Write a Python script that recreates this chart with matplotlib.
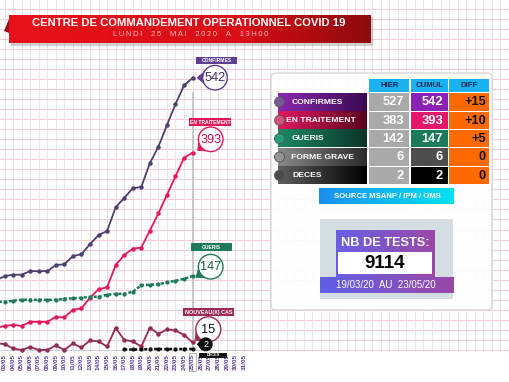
import matplotlib
matplotlib.use("Agg")
import matplotlib.pyplot as plt
import numpy as np
from matplotlib.patches import Rectangle, Circle, Polygon, FancyBboxPatch
from matplotlib.colors import LinearSegmentedColormap

plt.rcParams['font.family'] = ['Liberation Sans', 'DejaVu Sans']

# ---- data ----
tick_days = list(range(3, 32))
tick_labels = ['%02d/05' % d for d in tick_days]

days = list(range(2, 26))            # 02/05 .. 25/05
confirmes = [139, 147, 150, 150, 157, 157, 157, 169, 171, 187, 191, 211,
             229, 237, 284, 303, 322, 325, 372, 405, 448, 490, 527, 542]
en_traitement = [44, 48, 50, 48, 56, 56, 56, 66, 65, 80, 83, 104,
                 121, 125, 169, 189, 202, 204, 238, 272, 309, 346, 383, 393]
gueris = [96, 96, 98, 100, 100, 100, 100, 100, 102, 103, 104, 106,
          106, 110, 112, 112, 116, 129, 130, 131, 135, 138, 142, 147]
nouveaux = [13, 12, 3, 0, 6, 0, 0, 9, 0, 13, 5, 19,
            17, 7, 44, 20, 17, 7, 44, 32, 41, 39, 30, 15]
deces_days = list(range(17, 26))
deces = [1, 1, 1, 2, 2, 2, 2, 2, 2]

rows = ['CONFIRMES', 'EN TRAITEMENT', 'GUERIS', 'FORME GRAVE', 'DECES']
hier = [527, 383, 142, 6, 2]
cumul = [542, 393, 147, 6, 2]
diff = ['+15', '+10', '+5', '0', '0']
nb_tests = '9114'

# ---- figure / axes ----
W, H = 510, 382
fig = plt.figure(figsize=(5.1, 3.82), dpi=100)
base_px = 352
ax = fig.add_axes([0, (H - base_px) / H, 1, base_px / H])
day_px = 8.55
ppu = 0.502                      # pixels per case
x0 = 3 - 4.5 / day_px
ax.set_xlim(x0, x0 + W / day_px)
ax.set_ylim(-(base_px - 350) / ppu, 350 / ppu)
for s in ax.spines.values():
    s.set_visible(False)

for v in np.arange(0, 700, 20):
    ax.axhline(v, color='#f6c9d0', lw=0.7, zorder=0)
for d in np.arange(2, 64):
    ax.axvline(d, color='#f3e0e4', lw=0.7, zorder=0)
ax.axhline(0, color='#cfcfcf', lw=0.8, zorder=1, xmax=(31.5 - x0) / (W / day_px))
ax.plot([25, 25], [0, 512], color='#c4c4c4', lw=1.3, zorder=1)

ax.plot(days, confirmes, color='#4d3f70', lw=1.3, marker='o', ms=2.2, zorder=3)
ax.plot(days, en_traitement, color='#e5175c', lw=1.3, marker='o', ms=2.2, zorder=3)
ax.plot(days, gueris, color='#1c7a5a', lw=1.8, ls=(0, (1.2, 0.8)), marker='o', ms=2.0, zorder=3)
ax.plot(days, nouveaux, color='#932a55', lw=1.3, marker='o', ms=2.2, zorder=3)
ax.plot(deces_days, deces, color='#111111', lw=1.8, ls=(0, (1.2, 0.8)), marker='o',
        ms=2.0, zorder=3, clip_on=False)

ax.set_yticks([])
ax.set_xticks(tick_days)
ax.set_xticklabels(tick_labels, rotation=90, fontsize=4.6, fontweight='bold', color='#5b3c9c')
ax.tick_params(axis='x', length=0, pad=1.5)
lab25 = ax.get_xticklabels()[tick_days.index(25)]
lab25.set_bbox(dict(facecolor='none', edgecolor='#9a9a9a', lw=0.5, pad=0.6))

# ---- overlay in pixel coordinates ----
ov = fig.add_axes([0, 0, 1, 1], zorder=5)
ov.patch.set_visible(False)
ov.axis('off')


def hgrad(x1, x2, y1, y2, c1, c2, z=6):
    cmap = LinearSegmentedColormap.from_list('g', [c1, c2])
    ov.imshow(np.linspace(0, 1, 256)[None, :], cmap=cmap, aspect='auto',
              extent=[x1, x2, y2, y1], zorder=z, interpolation='bilinear')


def rect(x1, x2, y1, y2, c, z=6, **kw):
    ov.add_patch(Rectangle((x1, y1), x2 - x1, y2 - y1, fc=c, ec='none', zorder=z, **kw))


def bubble(cx, cy, r, tip, edge, txt, tcol, fs, fill='white'):
    a = np.arctan2(tip[1] - cy, tip[0] - cx)
    p1 = (cx + r * np.cos(a + 0.5), cy + r * np.sin(a + 0.5))
    p2 = (cx + r * np.cos(a - 0.5), cy + r * np.sin(a - 0.5))
    ov.add_patch(Polygon([p1, tip, p2], closed=True, fc=edge, ec=edge, lw=0.6, zorder=7))
    ov.add_patch(Circle((cx, cy), r, fc=fill, ec=edge, lw=1.0, zorder=8))
    ov.text(cx, cy + 0.5, txt, color=tcol, fontsize=fs, ha='center', va='center', zorder=9)


def tag(x1, x2, y1, y2, c, txt, fs=3.6):
    rect(x1, x2, y1, y2, c, z=7)
    ov.text((x1 + x2) / 2, (y1 + y2) / 2 + 0.3, txt, color='white', fontsize=fs,
            fontweight='bold', ha='center', va='center', zorder=8)


# title banner
rect(11, 373, 17, 45.5, '#000000', z=5, alpha=0.18)
ov.add_patch(Polygon([(9, 19), (4, 31), (9, 33)], closed=True, fc='#9a0a10', ec='none', zorder=6))
hgrad(9, 371, 15, 43, '#e8121a', '#d20c14', z=6)
hgrad(250, 371, 15, 43, '#d20c14', '#8c0a0e', z=6)
ov.text(189, 23.5, 'CENTRE DE COMMANDEMENT OPERATIONNEL COVID 19', color='white',
        fontsize=8.1, fontweight='bold', ha='center', va='center', zorder=8)
ov.text(191, 34.5, '\u2009'.join('LUNDI  25  MAI  2020  A  13H00'), color='#ffbcbc',
        fontsize=5.6, ha='center', va='center', zorder=8,
        family=['Liberation Sans', 'DejaVu Sans'])

# chart annotations
tag(196, 237, 56.7, 64, '#5c3f8e', 'CONFIRMES')
bubble(215, 77.7, 12.3, (197.3, 77.7), '#5c3f8e', '542', '#3d2a6b', 9.2)
tag(189, 231, 118, 126, '#e0185a', 'EN TRAITEMENT')
bubble(210.7, 139.3, 12.3, (197.7, 150.5), '#e0185a', '393', '#c0104a', 9.2)
tag(190.7, 232.3, 243, 251, '#1e7a5a', 'GUERIS')
bubble(210.7, 266.7, 12.3, (196, 277.3), '#1e7a5a', '147', '#1a5a44', 9.2)
tag(182.7, 234.3, 308, 316, '#9b2a55', 'NOUVEAU(X) CAS', fs=3.9)
bubble(208.3, 329.3, 12.5, (195, 340.5), '#9b2a55', '15', '#111111', 9.2)
bubble(205.7, 344.3, 6.3, (197.3, 344.3), '#111111', '2', 'white', 6.5, fill='#111111')
tag(199, 227, 352.7, 357.5, '#111111', 'DECES', fs=2.8)

# panel
ov.add_patch(FancyBboxPatch((271, 73), 221, 237, boxstyle='round,pad=0,rounding_size=5',
                            fc='white', ec='#d4d4d4', lw=1.0, alpha=0.9, zorder=5))

# table header
cols = [(369.3, 409.3), (411, 447.7), (449.3, 489)]
for (a, b), t in zip(cols, ['HIER', 'CUMUL', 'DIFF']):
    rect(a, b, 79.3, 91.7, '#1ab2f0')
    ov.text((a + b) / 2, 85.8, t, color='#1a2550', fontsize=5.6, fontweight='bold',
            ha='center', va='center', zorder=8)

lab_cols = [('#8a28b0', '#3a0a52'), ('#e3195f', '#58001f'), ('#1b8a65', '#0b3327'),
            ('#8a8a8a', '#2a2a2a'), ('#5e5e5e', '#000000')]
dot_cols = ['#7a5a95', '#d2557d', '#22a07a', '#959595', '#4a4a4a']
cum_cols = ['#8a22b5', '#e5176a', '#1a7a5a', '#4d4d4d', '#000000']
lab_x = [292, 286.5, 292, 291, 292]
for i, name in enumerate(rows):
    y1 = 93.3 + i * 18.35
    y2 = y1 + 17.3
    yc = (y1 + y2) / 2
    hgrad(278.3, 367.3, y1, y2, lab_cols[i][0], lab_cols[i][1])
    ov.add_patch(Circle((279.5, yc), 5, fc=dot_cols[i], ec='#555555', lw=0.6, zorder=7))
    ov.text(lab_x[i], yc + 0.3, name, color='white', fontsize=6.1, fontweight='bold',
            ha='left', va='center', zorder=8)
    rect(369.3, 409.3, y1, y2, '#a9a9a9')
    ov.text(404, yc + 0.4, str(hier[i]), color='white', fontsize=9.3, fontweight='bold',
            ha='right', va='center', zorder=8)
    rect(411, 447.7, y1, y2, cum_cols[i])
    ov.text(443, yc + 0.4, str(cumul[i]), color='white', fontsize=9.3, fontweight='bold',
            ha='right', va='center', zorder=8)
    rect(449.3, 489, y1, y2, '#ff6a00')
    ov.text(486, yc + 0.4, diff[i], color='#111111', fontsize=9.3, fontweight='bold',
            ha='right', va='center', zorder=8)

# source
hgrad(319.5, 454.5, 188, 204, '#1a8ff2', '#05e2f2')
ov.text(387, 196.3, 'SOURCE MSANP / IPM / OMS', color='white', fontsize=5.6,
        fontweight='bold', ha='center', va='center', zorder=8)

# tests box
rect(320, 453.3, 219, 299, '#d3dde2')
hgrad(336, 434.3, 230.7, 277.3, '#6a5fe6', '#9a49a6', z=7)
rect(338.3, 431.7, 251.7, 274, 'white', z=8)
hgrad(320, 453.3, 277.3, 292.7, '#5f60e8', '#9a47a6', z=7)
ov.text(385, 243.5, 'NB DE TESTS:', color='white', fontsize=9.2, fontweight='bold',
        ha='center', va='center', zorder=9)
ov.text(385, 263.5, nb_tests, color='#000000', fontsize=13.5, fontweight='bold',
        ha='center', va='center', zorder=9,
        family=['Liberation Sans Narrow', 'Liberation Sans', 'DejaVu Sans'])
ov.text(386, 285.3, '19/03/20  AU  23/05/20', color='white', fontsize=7.0,
        ha='center', va='center', zorder=9)

ov.set_xlim(0, W)
ov.set_ylim(H, 0)

fig.savefig('out.png', dpi=100)
